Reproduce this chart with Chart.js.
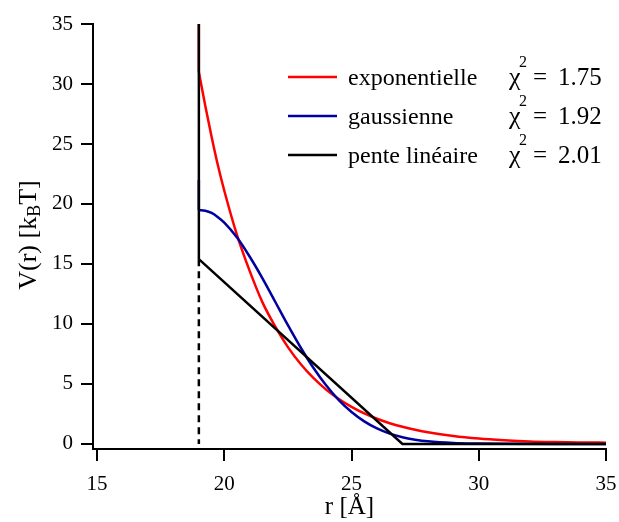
<!DOCTYPE html>
<html>
<head>
<meta charset="utf-8">
<script src="https://cdn.jsdelivr.net/npm/chart.js@4/dist/chart.umd.min.js"></script>
<style>
  html, body { margin: 0; padding: 0; background: #fff; }
  #wrap { width: 619px; height: 522px; }
</style>
</head>
<body>
<div id="wrap"><canvas id="potChart" width="619" height="522"></canvas></div>
<script>
// valeurs
const rExpo = [19, 19.25, 19.5, 19.75, 20, 20.5, 21, 21.5, 22, 22.5, 23, 23.5, 24, 24.5, 25, 25.5, 26, 26.5, 27, 27.5, 28, 29, 30, 31, 32, 33, 34, 35];
const vExpo = [31, 28.2, 25.6, 23.2, 21.1, 17.4, 14.4, 11.8, 9.8, 8.07, 6.66, 5.5, 4.53, 3.74, 3.09, 2.54, 2.1, 1.73, 1.43, 1.18, 0.97, 0.66, 0.45, 0.31, 0.21, 0.16, 0.13, 0.11];

const rGauss = [19, 19.25, 19.5, 19.75, 20, 20.5, 21, 21.5, 22, 22.5, 23, 23.5, 24, 24.5, 25, 25.5, 26, 26.5, 27, 27.5, 28, 29, 30, 31, 33, 35];
const vGauss = [19.5, 19.44, 19.25, 18.9, 18.45, 17.2, 15.6, 13.8, 11.85, 9.9, 8.04, 6.35, 4.89, 3.65, 2.66, 1.88, 1.29, 0.86, 0.56, 0.36, 0.22, 0.08, 0.03, 0.01, 0, 0];

const rLin = [19, 27, 35];
const vLin = [15.4, 0, 0];

// murs verticaux a r = 19
const rWall = [19, 19];
const vWallExpo = [35, 31];
const vWallGauss = [22, 19.5];
const vWallLin = [35, 15.4];
const vWallDash = [15.4, 0];

const xTicks = [15, 20, 25, 30, 35];
const yTicks = [0, 5, 10, 15, 20, 25, 30, 35];

const names = ['exponentielle', 'gaussienne', 'pente linéaire'];
const chi2 = ['1.75', '1.92', '2.01'];
const colors = ['#ff0000', '#0000a0', '#000000'];

const font = '"Liberation Serif", "Times New Roman", serif';

function pts(xs, ys) {
  return xs.map((x, i) => ({ x: x, y: ys[i] }));
}

const legendPlugin = {
  id: 'legendAndTitle',
  afterDraw(chart) {
    const ctx = chart.ctx;
    ctx.save();
    ctx.fillStyle = '#000';
    ctx.textBaseline = 'alphabetic';
    ctx.textAlign = 'left';
    // legende
    for (let i = 0; i < names.length; i++) {
      const y = 77 + i * 39;
      ctx.strokeStyle = colors[i];
      ctx.lineWidth = 2.5;
      ctx.beginPath();
      ctx.moveTo(288, y);
      ctx.lineTo(337, y);
      ctx.stroke();
      ctx.font = '24px ' + font;
      ctx.fillText(names[i], 348, y + 8);
      ctx.font = '26px ' + font;
      ctx.fillText('χ', 509, y + 8);
      ctx.font = '25px ' + font;
      ctx.fillText('=', 533, y + 8);
      ctx.fillText(chi2[i], 558, y + 8);
      ctx.font = '16px ' + font;
      ctx.fillText('2', 519, y - 10);
    }
    // titre axe y avec indice
    ctx.translate(36, 235);
    ctx.rotate(-Math.PI / 2);
    ctx.font = '26px ' + font;
    const a = 'V(r) [k', c = 'T]';
    const wa = ctx.measureText(a).width, wc = ctx.measureText(c).width;
    ctx.font = '18px ' + font;
    const wb = ctx.measureText('B').width;
    const x = -(wa + wb + wc) / 2;
    ctx.font = '26px ' + font;
    ctx.fillText(a, x, 0);
    ctx.font = '18px ' + font;
    ctx.fillText('B', x + wa, 4);
    ctx.font = '26px ' + font;
    ctx.fillText(c, x + wa + wb, 0);
    ctx.restore();
  }
};

const ctx = document.getElementById('potChart').getContext('2d');

const curve = { borderWidth: 2.5, cubicInterpolationMode: 'monotone' };
const wall = { borderWidth: 2.5 };

new Chart(ctx, {
  type: 'line',
  data: {
    datasets: [
      { data: pts(rLin, vLin), borderColor: colors[2], borderWidth: 2.5, order: 0 },
      { data: pts(rWall, vWallLin), borderColor: colors[2], ...wall, order: 0 },
      { data: pts(rWall, vWallDash), borderColor: colors[2], ...wall, borderDash: [7, 5], order: 0 },
      { data: pts(rGauss, vGauss), borderColor: colors[1], ...curve, order: 1 },
      { data: pts(rWall, vWallGauss), borderColor: colors[1], ...wall, order: 3 },
      { data: pts(rExpo, vExpo), borderColor: colors[0], ...curve, order: 2 },
      { data: pts(rWall, vWallExpo), borderColor: colors[0], ...wall, order: 3 }
    ]
  },
  options: {
    responsive: false,
    animation: false,
    parsing: false,
    elements: { point: { radius: 0 }, line: { tension: 0, fill: false } },
    layout: { padding: { top: 24, right: 13, left: 0, bottom: 0 } },
    plugins: { legend: { display: false }, tooltip: { enabled: false } },
    scales: {
      x: {
        type: 'linear',
        min: 14.84,
        max: 35,
        afterBuildTicks: s => { s.ticks = xTicks.map(v => ({ value: v })); },
        afterFit: s => { s.height = 73; s.paddingLeft = 0; s.paddingRight = 0; },
        border: { color: '#000', width: 2 },
        grid: { drawOnChartArea: false, color: '#000', lineWidth: 2, tickLength: 12 },
        ticks: { color: '#000', font: { family: font, size: 21 }, padding: 11, maxRotation: 0 },
        title: { display: true, text: 'r [Å]', color: '#000', font: { family: font, size: 25 }, padding: 0 }
      },
      y: {
        type: 'linear',
        min: -0.42,
        max: 35,
        afterBuildTicks: s => { s.ticks = yTicks.map(v => ({ value: v })); },
        afterFit: s => { s.width = 93; s.paddingTop = 0; s.paddingBottom = 0; },
        border: { color: '#000', width: 2 },
        grid: { drawOnChartArea: false, color: '#000', lineWidth: 2, tickLength: 12 },
        ticks: { color: '#000', font: { family: font, size: 21 }, padding: 8 }
      }
    }
  },
  plugins: [legendPlugin]
});
</script>
</body>
</html>
